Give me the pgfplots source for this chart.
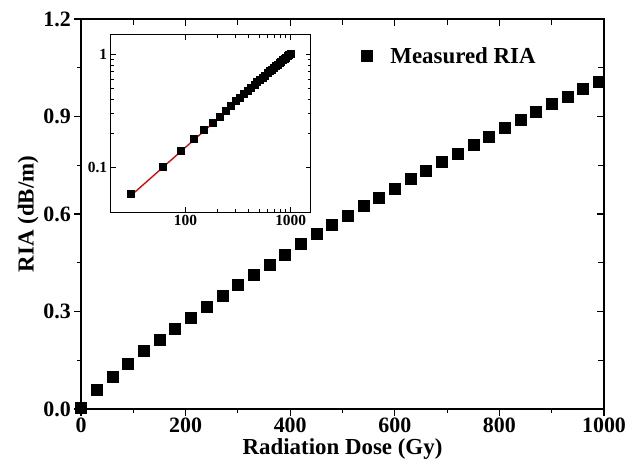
\documentclass[border=0pt]{standalone}
\usepackage{pgfplots}
\pgfplotsset{compat=1.18}
\usepackage{pgfplotstable}
\usepackage{fontspec}
\setmainfont{Liberation Serif}
\usetikzlibrary{calc}

\pgfplotstableread{
x y
0 0.005
30 0.058
60 0.100
90 0.140
120 0.178
150 0.214
180 0.248
210 0.282
240 0.316
270 0.349
300 0.384
330 0.414
360 0.445
390 0.476
420 0.508
450 0.538
480 0.566
510 0.594
540 0.625
570 0.651
600 0.679
630 0.708
660 0.733
690 0.760
720 0.787
750 0.814
780 0.838
810 0.866
840 0.889
870 0.915
900 0.938
930 0.961
960 0.986
990 1.008
}\datatable

\begin{document}
\begin{tikzpicture}
\begin{axis}[
  name=main,
  scale only axis, width=523bp, height=390bp,
  xmin=0, xmax=1000, ymin=0, ymax=1.2,
  xtick={0,200,400,600,800,1000},
  ytick={0,0.3,0.6,0.9,1.2},
  minor x tick num=1, minor y tick num=1,
  tick align=outside, xtick pos=left, ytick pos=left,
  major tick length=7bp, minor tick length=4bp,
  tick style={line width=1.1pt, black},
  axis line style={line width=1.3pt},
  /pgf/number format/assume math mode=true,
  /pgf/number format/1000 sep={},
  ticklabel style={font=\fontsize{22}{26}\selectfont\bfseries},
  xticklabel style={inner sep=2bp},
  yticklabel style={/pgf/number format/fixed, /pgf/number format/fixed zerofill, /pgf/number format/precision=1, inner sep=3bp},
  xlabel={Radiation Dose (Gy)}, ylabel={RIA (dB/m)},
  label style={font=\fontsize{23}{27}\selectfont\bfseries},
  xlabel style={at={(axis description cs:0.5,-0.103)}, anchor=center},
  ylabel style={at={(axis description cs:-0.101,0.5)}, anchor=center},
  legend style={draw=none, fill=none, at={(0.53,0.905)}, anchor=west,
    font=\fontsize{23}{27}\selectfont\bfseries, column sep=4bp},
  legend cell align=left,
]
\addplot[only marks, mark=square*, mark size=5.5bp, black] table[x=x,y=y]{\datatable};
\addlegendentry{\hspace{12bp}Measured RIA}
\end{axis}
\begin{axis}[
  at={(main.south west)}, anchor=south west,
  scale only axis, width=523bp, height=390bp,
  xmin=0, xmax=1000, ymin=0, ymax=1.2,
  xtick={0,200,400,600,800,1000},
  ytick={0,0.3,0.6,0.9,1.2},
  minor x tick num=1, minor y tick num=1,
  tick align=inside, xtick pos=right, ytick pos=right,
  major tick length=7bp, minor tick length=6bp,
  tick style={line width=1.1pt, black},
  axis line style={line width=1.3pt},
  xticklabels={}, yticklabels={},
]
\end{axis}
\begin{axis}[
  at={($(main.south west)+(29.7bp,374bp)$)}, anchor=north west,
  scale only axis, width=200bp, height=177bp,
  xmode=log, ymode=log,
  xmin=19.4, xmax=1550, ymin=0.04, ymax=1.48,
  xtick={100,1000}, xticklabels={100,1000},
  ytick={0.1,1}, yticklabels={0.1,1},
  tick align=inside,
  major tick length=5bp, minor tick length=3bp,
  tick style={line width=0.8pt, black},
  axis line style={line width=1pt},
  axis background/.style={fill=white},
  ticklabel style={font=\fontsize{15.5}{18}\selectfont\bfseries},
]
\addplot[only marks, mark=square*, mark size=3.5bp, black, skip coords between index={0}{1}] table[x=x,y=y]{\datatable};
\addplot[red!85!black, line width=1.3pt] coordinates {(30,0.0556) (1000,1.0)};
\end{axis}
\useasboundingbox ($(main.south west)+(-81bp,-58bp)$) rectangle ($(main.south west)+(558bp,409bp)$);
\end{tikzpicture}
\end{document}
